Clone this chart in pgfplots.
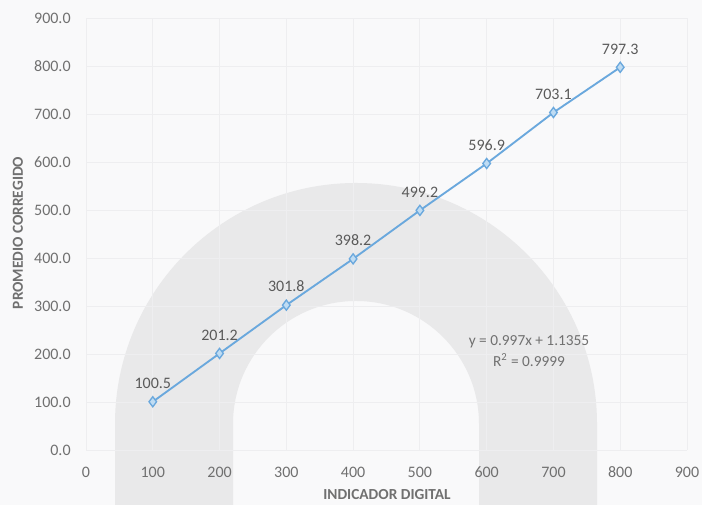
\documentclass[border=0pt]{standalone}
\usepackage{pgfplots}
\pgfplotsset{compat=1.18}
\usepackage{fontspec}
\setmainfont{Carlito}
\definecolor{bg}{HTML}{F9F9FA}
\definecolor{wm}{HTML}{E9E9EA}
\definecolor{txt}{HTML}{707070}
\definecolor{dtxt}{HTML}{5A5A5A}
\definecolor{gridc}{HTML}{EEEEF0}
\definecolor{linec}{HTML}{6AA8DD}
\definecolor{mfill}{HTML}{BFDCF3}
\begin{document}
\begin{tikzpicture}[x=0.75pt,y=0.75pt]
\fill[bg] (0,0) rectangle (702,505);
\begin{scope}
\clip (0,0) rectangle (702,505);
\fill[wm,even odd rule] (115,81) arc[start angle=180,end angle=0,radius=241] -- (597,-5) -- (115,-5) -- cycle
 (233,81) arc[start angle=180,end angle=0,radius=123] -- (479,-5) -- (233,-5) -- cycle;
\end{scope}
\begin{axis}[
  at={(64.5pt,41.25pt)}, anchor=south west,
  scale only axis, width=450.75pt, height=324pt,
  xmin=0, xmax=900, ymin=0, ymax=900,
  xtick={0,100,...,900}, ytick={0,100,...,900},
  axis line style={draw=none},
  major tick length=0pt,
  grid=major,
  grid style={draw=gridc, line width=0.6pt},
  /pgf/number format/assume math mode=true,
  tick label style={font=\fontsize{12}{14}\selectfont, text=txt},
  yticklabel={\pgfmathprintnumber[fixed,fixed zerofill,precision=1]{\tick}},
  yticklabel style={xshift=-8pt},
  xticklabel style={yshift=-9pt},
  clip=false,
]
\addplot[color=linec, line width=1.4pt, mark=diamond*, mark size=3.8pt,
  mark options={draw=linec, fill=mfill, line width=1pt},
  nodes near coords={\pgfmathprintnumber[fixed,fixed zerofill,precision=1,assume math mode=true]{\pgfplotspointmeta}},
  every node near coord/.append style={font=\fontsize{12}{14}\selectfont, text=dtxt, yshift=6pt}]
  coordinates {(100,100.5)(200,201.2)(300,301.8)(400,398.2)(500,499.2)(600,596.9)(700,703.1)(800,797.3)};
\end{axis}
\node[font=\fontsize{11.5}{13}\selectfont\bfseries, text=txt] at (387,10) {INDICADOR DIGITAL};
\node[font=\fontsize{11.5}{13}\selectfont\bfseries, text=txt, rotate=90] at (18,272) {PROMEDIO CORREGIDO};
\node[font=\fontsize{11.5}{13}\selectfont, text=txt] at (529,163) {y = 0.997x + 1.1355};
\node[font=\fontsize{11.5}{13}\selectfont, text=txt] at (529,145) {R\textsuperscript{2} = 0.9999};
\pgfresetboundingbox
\useasboundingbox (0,0) rectangle (702,505);
\end{tikzpicture}
\end{document}
